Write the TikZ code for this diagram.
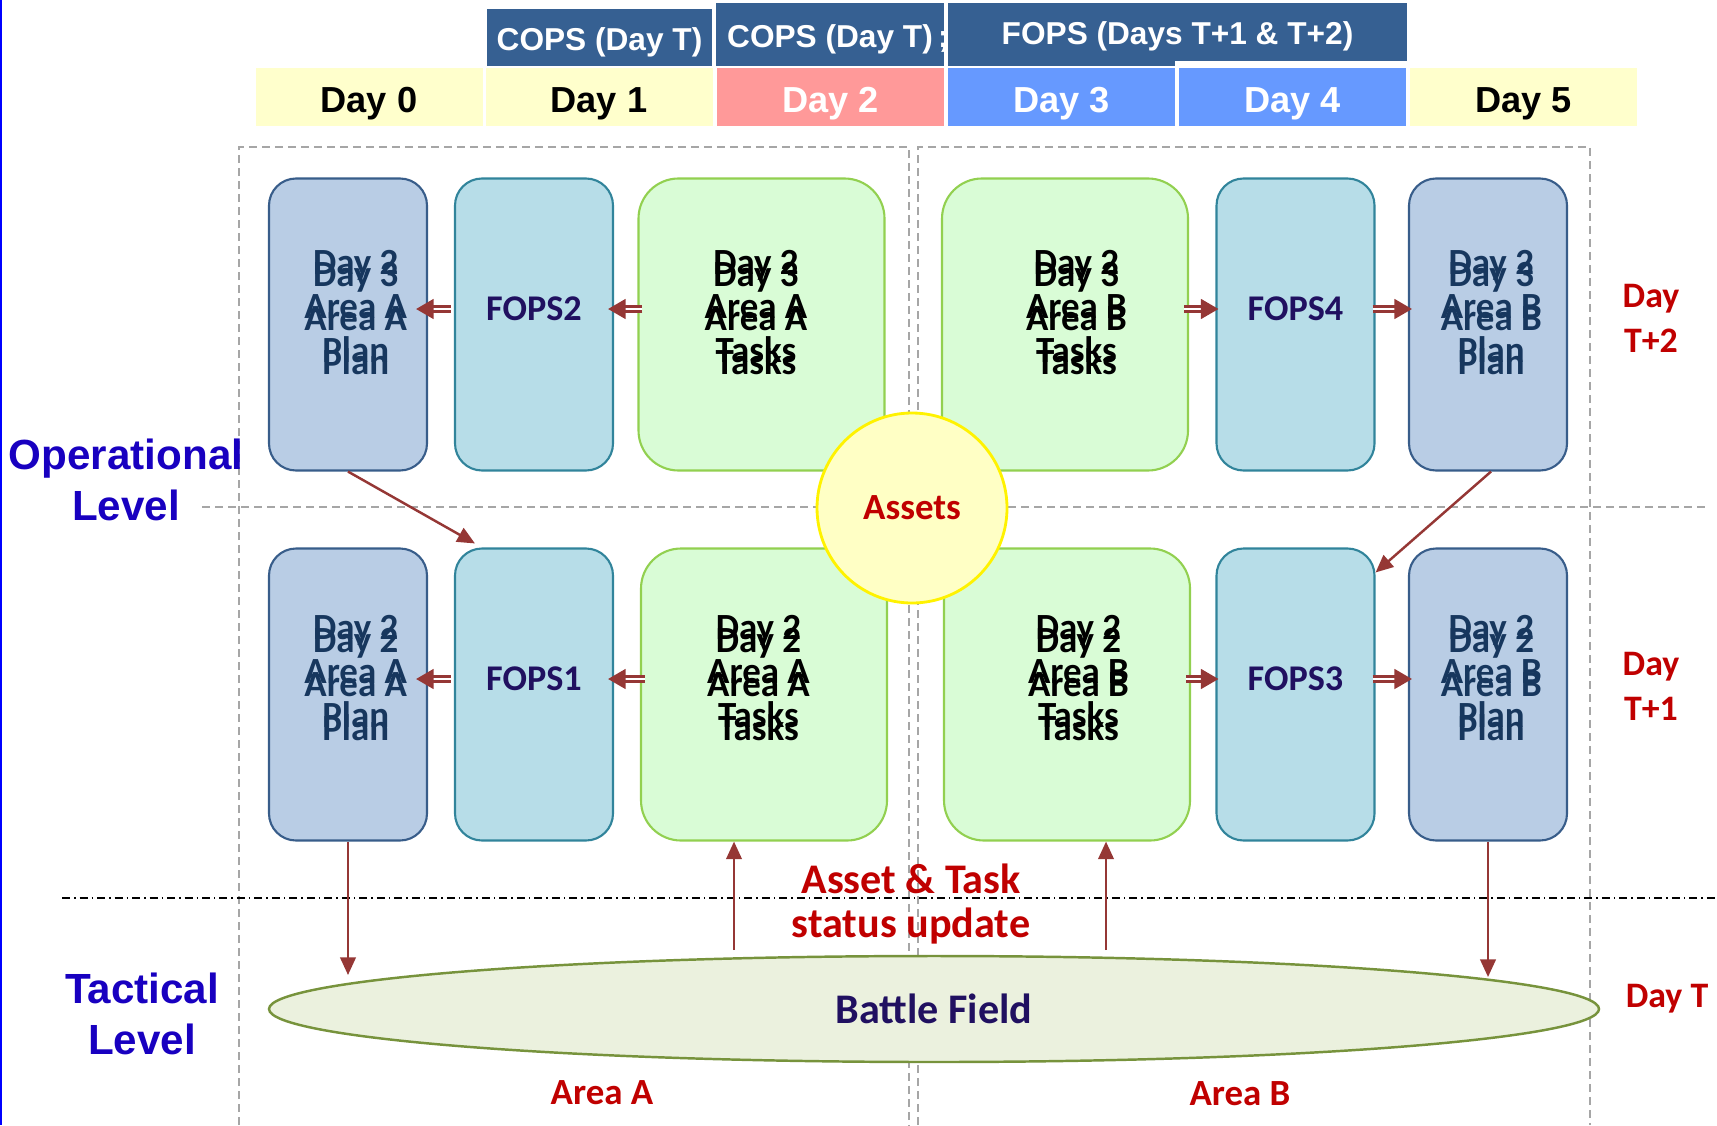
\documentclass[tikz,border=0pt]{standalone}
\usepackage{fontspec}
\setmainfont{Carlito}
\newfontfamily\arialfont{Liberation Sans}
\usetikzlibrary{arrows.meta,shapes.geometric,positioning}

\definecolor{planfill}{HTML}{B9CDE5}
\definecolor{planedge}{HTML}{385D8A}
\definecolor{plantxt}{HTML}{17375E}
\definecolor{fopsfill}{HTML}{B7DDE8}
\definecolor{fopsedge}{HTML}{31849B}
\definecolor{taskfill}{HTML}{D9FCD6}
\definecolor{taskedge}{HTML}{92D050}
\definecolor{assetfill}{HTML}{FFFFC5}
\definecolor{fieldfill}{HTML}{EBF1DE}
\definecolor{fieldedge}{HTML}{77933C}
\definecolor{hdrblue}{HTML}{366092}
\definecolor{dayyel}{HTML}{FFFFCC}
\definecolor{daypink}{HTML}{FF9999}
\definecolor{dayblue}{HTML}{6699FF}
\definecolor{labred}{HTML}{C00000}
\definecolor{levelblue}{RGB}{24,0,192}
\definecolor{navy}{RGB}{32,16,96}
\definecolor{arrred}{HTML}{953735}
\definecolor{gridgray}{HTML}{A6A6A6}

\tikzset{
  hdrbox/.style={fill=hdrblue, text=white, inner sep=0pt, text height=7.3pt, text depth=0pt,
    font=\arialfont\bfseries\fontsize{9}{11}\selectfont},
  daycell/.style={minimum width=22.7mm, minimum height=5.8mm, inner sep=0pt,
    text height=8.6pt, text depth=0pt,
    font=\arialfont\bfseries\fontsize{10.3}{12}\selectfont},
  gridline/.style={gridgray, line width=0.5pt, dash pattern=on 0.8mm off 0.5mm},
  levelline/.style={black, line width=0.6pt, dash pattern=on 0.8mm off 0.4mm on 0.15mm off 0.4mm},
  planbox/.style={draw=planedge, fill=planfill, line width=0.6pt, rounded corners=2.7mm,
    minimum width=15.8mm, minimum height=29.2mm, inner sep=0pt},
  fopsbox/.style={planbox, draw=fopsedge, fill=fopsfill},
  taskbox/.style={planbox, draw=taskedge, fill=taskfill, rounded corners=4mm, minimum width=24.6mm},
  plantext/.style={text=plantxt, align=center, inner sep=0pt,
    font=\bfseries\fontsize{10.5}{12.5}\selectfont},
  tasktext/.style={plantext, text=black},
  fopstext/.style={text=navy, inner sep=0pt, font=\bfseries\fontsize{10.3}{12}\selectfont},
  levellabel/.style={text=levelblue, align=center, inner sep=0pt,
    font=\arialfont\bfseries\fontsize{12}{14.3}\selectfont},
  redlabel/.style={text=labred, align=center, inner sep=0pt,
    font=\bfseries\fontsize{10.2}{12.8}\selectfont},
  updlabel/.style={redlabel, font=\bfseries\fontsize{12}{12.8}\selectfont},
  arr/.style={draw=arrred, line width=0.7pt, -{Triangle[length=5pt,width=4.4pt]}},
  dblarr/.style={draw=arrred, line width=0.75pt, double=white, double distance=0.8pt,
    -{Triangle[length=5pt,width=5.6pt]}},
}

\begin{document}
\begin{tikzpicture}[x=0.1mm, y=-0.1mm]
\useasboundingbox (0,0) rectangle (1717,1125);
\draw[blue, line width=0.7pt] (1,0) -- (1,1125); % left edge

% header
\node[hdrbox, minimum width=22.5mm, minimum height=5.7mm] (cops1) at (599.5,37.5) {COPS (Day T)};
\node[hdrbox, minimum width=22.8mm, minimum height=6.3mm] (cops2) at (830,34.5) {COPS (Day T)\rlap{\,;}};
\fill[hdrblue] (948,3) rectangle (1175,66);
\node[hdrbox, minimum width=45.9mm, minimum height=5.8mm] (fops) at (1177.5,32) {FOPS (Days T+1 \& T+2)};

\node[daycell, fill=dayyel] (d0) at (369,97) {Day 0};
\node[daycell, fill=dayyel] (d1) at (599,97) {Day 1};
\node[daycell, fill=daypink, text=white] (d2) at (830.5,97) {Day 2};
\node[daycell, fill=dayblue, text=white] (d3) at (1061.5,97) {Day 3};
\node[daycell, fill=dayblue, text=white] (d4) at (1292.5,97) {Day 4};
\node[daycell, fill=dayyel] (d5) at (1523.5,97) {Day 5};

% frames
\draw[gridline] (239,1125) -- (239,147) -- (909,147) -- (909,1125);
\draw[gridline] (918,1125) -- (918,147) -- (1590,147) -- (1590,1125);
\draw[gridline] (202,507) -- (1708,507);
\draw[levelline] (62,898) -- (1717,898);

% day T+2
\node[planbox] (plan3a) at (348,324.5) {};
\node[fopsbox] (fops2) at (534,324.5) {};
\node[taskbox] (task3a) at (761.5,324.5) {};
\node[taskbox] (task3b) at (1065,324.5) {};
\node[fopsbox] (fops4) at (1295.5,324.5) {};
\node[planbox] (plan3b) at (1488,324.5) {};
% day T+1
\node[planbox] (plan2a) at (348,694.5) {};
\node[fopsbox] (fops1) at (534,694.5) {};
\node[taskbox] (task2a) at (764,694.5) {};
\node[taskbox] (task2b) at (1067,694.5) {};
\node[fopsbox] (fops3) at (1295.5,694.5) {};
\node[planbox] (plan2b) at (1488,694.5) {};

\node[circle, draw=yellow, fill=assetfill, line width=0.8pt, minimum size=19mm,
  text=labred, font=\bfseries\fontsize{10.5}{12}\selectfont] (assets) at (912,508) {Assets};
\node[ellipse, draw=fieldedge, fill=fieldfill, line width=0.7pt, minimum width=133mm,
  minimum height=10.6mm, inner sep=0pt, text=navy,
  font=\bfseries\fontsize{12}{14}\selectfont] (field) at (934,1009) {Battle Field};

% box texts
\node[plantext] (plan3a-g) at ([xshift=0.77mm,yshift=1.8mm]plan3a.center) {Day 2\\Area A\\Plan};
\node[plantext] (plan3a-t) at ([xshift=0.77mm,yshift=0.6mm]plan3a.center) {Day 3\\Area A\\Plan};
\node[fopstext] (fops2-t) at ([yshift=1.55mm]fops2.center) {FOPS2};
\node[tasktext] (task3a-g) at ([xshift=-0.55mm,yshift=1.8mm]task3a.center) {Day 2\\Area A\\Tasks};
\node[tasktext] (task3a-t) at ([xshift=-0.55mm,yshift=0.6mm]task3a.center) {Day 3\\Area A\\Tasks};
\node[tasktext] (task3b-g) at ([xshift=1.15mm,yshift=1.8mm]task3b.center) {Day 2\\Area B\\Tasks};
\node[tasktext] (task3b-t) at ([xshift=1.15mm,yshift=0.6mm]task3b.center) {Day 3\\Area B\\Tasks};
\node[fopstext] (fops4-t) at ([yshift=1.55mm]fops4.center) {FOPS4};
\node[plantext] (plan3b-g) at ([xshift=0.33mm,yshift=1.8mm]plan3b.center) {Day 2\\Area B\\Plan};
\node[plantext] (plan3b-t) at ([xshift=0.33mm,yshift=0.6mm]plan3b.center) {Day 3\\Area B\\Plan};

\node[plantext] (plan2a-g) at ([xshift=0.77mm,yshift=2.3mm]plan2a.center) {Day 2\\Area A\\Plan};
\node[plantext] (plan2a-t) at ([xshift=0.77mm,yshift=1.0mm]plan2a.center) {Day 2\\Area A\\Plan};
\node[fopstext] (fops1-t) at ([yshift=1.55mm]fops1.center) {FOPS1};
\node[tasktext] (task2a-g) at ([xshift=-0.55mm,yshift=2.3mm]task2a.center) {Day 2\\Area A\\Tasks};
\node[tasktext] (task2a-t) at ([xshift=-0.55mm,yshift=1.0mm]task2a.center) {Day 2\\Area A\\Tasks};
\node[tasktext] (task2b-g) at ([xshift=1.15mm,yshift=2.3mm]task2b.center) {Day 2\\Area B\\Tasks};
\node[tasktext] (task2b-t) at ([xshift=1.15mm,yshift=1.0mm]task2b.center) {Day 2\\Area B\\Tasks};
\node[fopstext] (fops3-t) at ([yshift=1.55mm]fops3.center) {FOPS3};
\node[plantext] (plan2b-g) at ([xshift=0.33mm,yshift=2.3mm]plan2b.center) {Day 2\\Area B\\Plan};
\node[plantext] (plan2b-t) at ([xshift=0.33mm,yshift=1.0mm]plan2b.center) {Day 2\\Area B\\Plan};

% double arrows
\draw[dblarr, shorten <=-0.5mm, shorten >=-0.6mm] ([yshift=1.55mm]task3a.west) -- ([yshift=1.55mm]fops2.east);
\draw[dblarr, shorten <=0.3mm, shorten >=-1.2mm] ([yshift=1.55mm]fops2.west) -- ([yshift=1.55mm]plan3a.east);
\draw[dblarr, shorten <=-0.5mm, shorten >=-0.3mm] ([yshift=1.55mm]task3b.east) -- ([yshift=1.55mm]fops4.west);
\draw[dblarr, shorten <=-0.3mm, shorten >=-0.4mm] ([yshift=1.55mm]fops4.east) -- ([yshift=1.55mm]plan3b.west);
\draw[dblarr, shorten <=-0.5mm, shorten >=-0.6mm] ([yshift=1.55mm]task2a.west) -- ([yshift=1.55mm]fops1.east);
\draw[dblarr, shorten <=0.3mm, shorten >=-1.2mm] ([yshift=1.55mm]fops1.west) -- ([yshift=1.55mm]plan2a.east);
\draw[dblarr, shorten <=-0.5mm, shorten >=-0.3mm] ([yshift=1.55mm]task2b.east) -- ([yshift=1.55mm]fops3.west);
\draw[dblarr, shorten <=-0.3mm, shorten >=-0.4mm] ([yshift=1.55mm]fops3.east) -- ([yshift=1.55mm]plan2b.west);

% plans to next fops
\draw[arr] (plan3a.south) -- ([xshift=2.1mm,yshift=0.4mm]fops1.north west);
\draw[arr] ([xshift=0.3mm]plan3b.south) -- ([yshift=-2.5mm]fops3.north east);

% to and from the field
\coordinate (ina) at (350,975);
\coordinate (inb) at (1488,977);
\coordinate (outa) at (734,950);
\coordinate (outb) at (1106,950);
\draw[arr] (plan2a.south) -- (plan2a.south |- ina);
\draw[arr] (outa) -- (outa |- task2a.south);
\draw[arr] (outb) -- (outb |- task2b.south);
\draw[arr] (plan2b.south) -- (plan2b.south |- inb);

% labels
\node[levellabel] (oplevel) at (126,480) {Operational\\Level};
\node[levellabel, font=\arialfont\bfseries\fontsize{12}{14.6}\selectfont] (taclevel) at (142,1014) {Tactical\\Level};
\node[redlabel] (dayt2) at (1651,318) {Day\\T+2};
\node[redlabel] (dayt1) at (1651,686) {Day\\T+1};
\node[redlabel] (dayt) at (1667,999) {Day T};
\node[redlabel, font=\bfseries\fontsize{10.5}{12}\selectfont] (areaa) at (602,1093) {Area A};
\node[redlabel, font=\bfseries\fontsize{10.5}{12}\selectfont] (areab) at (1240,1094) {Area B};
\node[updlabel] (update) at (911,904) {Asset \& Task\\status update};
\end{tikzpicture}
\end{document}
